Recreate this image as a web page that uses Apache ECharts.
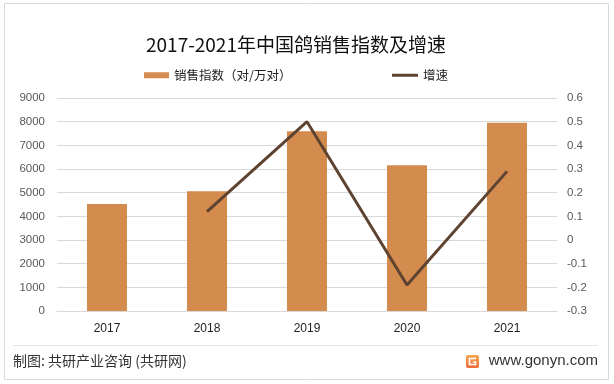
<!DOCTYPE html>
<html>
<head>
<meta charset="utf-8">
<script src="https://cdn.jsdelivr.net/npm/echarts@6/dist/echarts.min.js"></script>
<style>
html,body{margin:0;padding:0;background:#fff;}
#c{width:614px;height:384px;}
</style>
</head>
<body>
<div id="c"></div>
<script>
var categories = ['2017', '2018', '2019', '2020', '2021'];
var salesIndex = [4520, 5060, 7600, 6160, 7950];
var growthRate = [null, 0.12, 0.50, -0.19, 0.29];
var leftTicks = { min: 0, max: 9000, interval: 1000 };
var rightTicks = { min: -0.3, max: 0.6, interval: 0.1 };
var titleText = '2017-2021年中国鸽销售指数及增速';
var barName = '销售指数（对/万对）';
var lineName = '增速';
var sourceText = '制图: 共研产业咨询 (共研网)';
var siteText = 'www.gonyn.com';

var chart = echarts.init(document.getElementById('c'), null, {renderer: 'canvas'});
var cjk = '"Microsoft YaHei","Noto Sans CJK SC",sans-serif';
var num = '"Liberation Sans","Noto Sans",sans-serif';

var option = {
  backgroundColor: '#ffffff',
  animation: false,
  title: {
    text: titleText,
    left: 141,
    top: 30,
    textStyle: { fontFamily: cjk, fontSize: 19, fontWeight: 'normal', color: '#111' }
  },
  legend: [{
    data: [barName],
    left: 139, top: 64,
    itemWidth: 25, itemHeight: 6, itemGap: 4,
    icon: 'rect',
    textStyle: { fontFamily: cjk, fontSize: 12.5, color: '#222' }
  }, {
    data: [lineName],
    left: 387, top: 64,
    itemWidth: 26, itemHeight: 3, itemGap: 2,
    icon: 'rect',
    textStyle: { fontFamily: cjk, fontSize: 12.5, color: '#222' }
  }],
  grid: { left: 57, right: 57, top: 98, bottom: 73, containLabel: false },
  xAxis: {
    type: 'category',
    data: categories,
    axisLine: { show: true, lineStyle: { color: '#d9d9d9', width: 1 } },
    axisTick: { show: false },
    axisLabel: { margin: 12, fontFamily: num, fontSize: 12, color: '#222' }
  },
  yAxis: [{
    type: 'value',
    min: leftTicks.min, max: leftTicks.max, interval: leftTicks.interval,
    axisLine: { show: false }, axisTick: { show: false },
    splitLine: { lineStyle: { color: '#d9d9d9', width: 1 } },
    axisLabel: { margin: 12, fontFamily: num, fontSize: 11.5, color: '#595959',
      formatter: function (v) { return String(v); } }
  }, {
    type: 'value',
    min: rightTicks.min, max: rightTicks.max, interval: rightTicks.interval,
    axisLine: { show: false }, axisTick: { show: false },
    splitLine: { show: false },
    axisLabel: {
      margin: 10, fontFamily: num, fontSize: 11.5, color: '#595959',
      formatter: function (v) { return String(+v.toFixed(1)); }
    }
  }],
  series: [{
    name: barName,
    type: 'bar',
    data: salesIndex,
    barWidth: '40%',
    itemStyle: { color: '#D38B4E' },
    yAxisIndex: 0
  }, {
    name: lineName,
    type: 'line',
    data: growthRate,
    yAxisIndex: 1,
    symbol: 'none',
    connectNulls: false,
    lineStyle: { color: '#5E4330', width: 3 },
    itemStyle: { color: '#5E4330' }
  }],
  graphic: [
    { type: 'rect', z: -1, shape: { x: 4.5, y: 3.5, width: 604, height: 376 },
      style: { fill: 'none', stroke: '#d9d9d9', lineWidth: 1 } },
    { type: 'line', shape: { x1: 13, y1: 345.5, x2: 598, y2: 345.5 },
      style: { stroke: '#e3e3e3', lineWidth: 1 } },
    { type: 'text', left: 13, top: 354,
      style: { text: sourceText, fontFamily: cjk, fontSize: 14, fill: '#333' } },
    { type: 'rect', shape: { x: 466, y: 355, width: 13, height: 13, r: 2 },
      style: { fill: new echarts.graphic.LinearGradient(0, 0, 0, 1, [
        { offset: 0, color: '#F7A84F' }, { offset: 1, color: '#F06A3C' }]) } },
    { type: 'polyline', shape: { points: [[476, 358.5], [469.5, 358.5], [469.5, 364.5], [475.5, 364.5], [475.5, 362], [473, 362]] },
      style: { stroke: '#fff', lineWidth: 1.6, fill: 'none' } },
    { type: 'text', right: 16, top: 353,
      style: { text: siteText, fontFamily: num, fontSize: 15, fill: '#333' } }
  ]
};
chart.setOption(option);
</script>
</body>
</html>
